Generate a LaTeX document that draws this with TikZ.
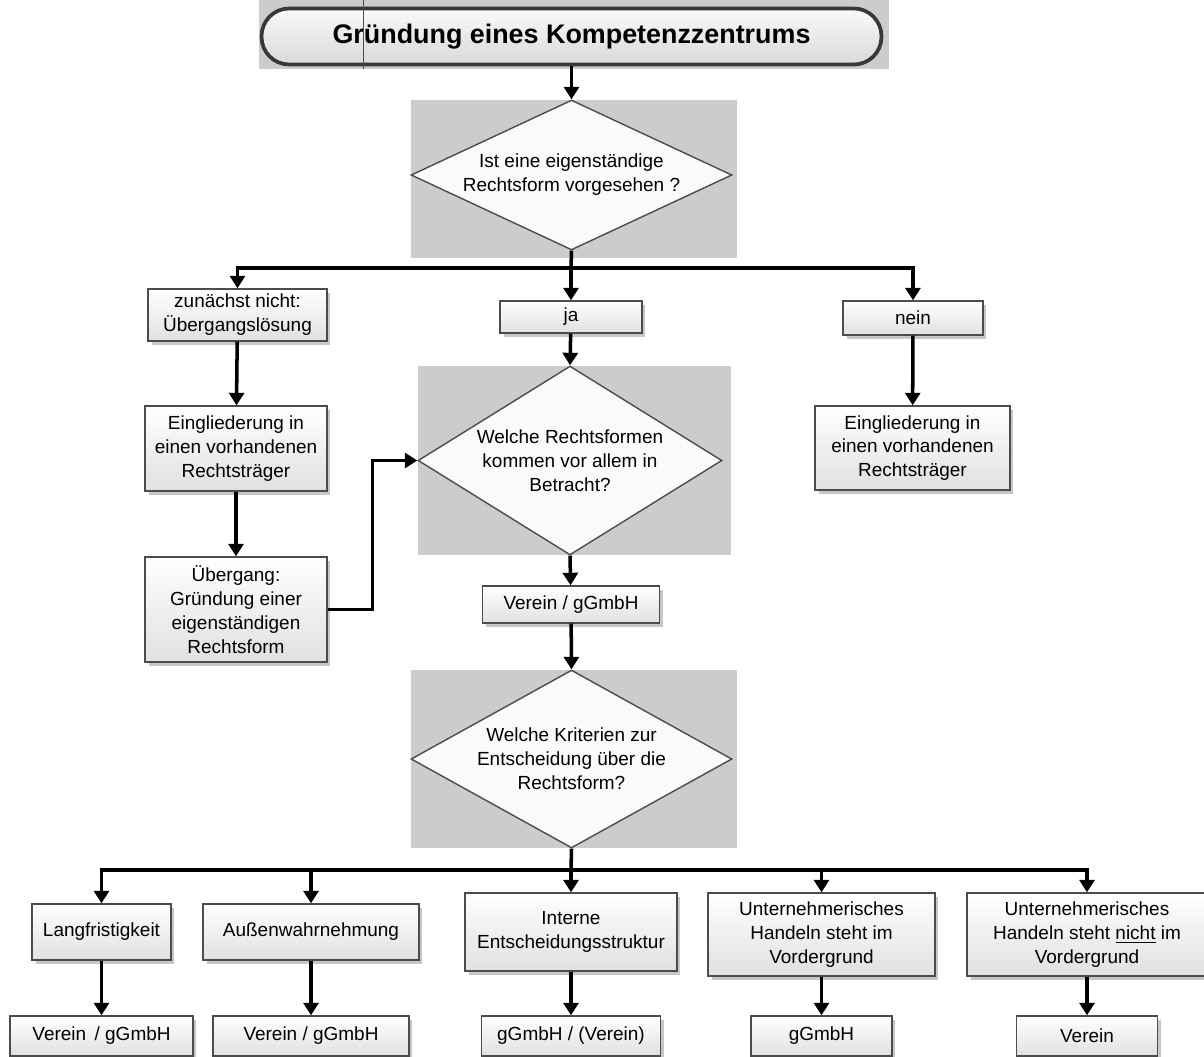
\documentclass[tikz,border=0pt]{standalone}
\usepackage{fontspec}
\setmainfont{Liberation Sans}
\usetikzlibrary{shapes.geometric,shadows,arrows.meta}

\begin{document}
\begin{tikzpicture}[x=0.02cm,y=-0.02cm,
  box/.style={draw=black!70,line width=0.8pt,top color=white,bottom color=black!12,
    drop shadow={shadow xshift=0.07cm,shadow yshift=-0.07cm,fill=black!22,opacity=1},
    align=center,inner sep=0pt,font=\fontsize{10.8}{13.6}\selectfont},
  frage/.style={diamond,draw=black!70,line width=0.8pt,fill=black!2,inner sep=0pt,
    align=center,font=\fontsize{10.8}{13.6}\selectfont},
  pfeil/.style={line width=2pt,-{Triangle[length=0.25cm,width=0.3cm]}},
  linie/.style={line width=2pt},
  hinter/.style={fill=black!20}]
\useasboundingbox (0,0) rectangle (1204,1056);

\fill[hinter] (259,0) rectangle (889,69);
\fill[hinter] (411,100) rectangle (737,258);
\fill[hinter] (418,366) rectangle (731,555);
\fill[hinter] (411,670) rectangle (737,848);

\node (titel) at (571.5,36.5) [draw=black!78,line width=2.1pt,rounded corners=0.55cm,
  top color=black!2,bottom color=black!15,minimum width=12.4cm,minimum height=1.12cm,
  font=\fontsize{15.3}{17}\selectfont\bfseries] {Gründung eines Kompetenzzentrums\hspace{8pt}};
\draw[black!70,line width=0.3pt] (363,0) -- (363,69);

\node (q1) at (571.5,175) [frage,aspect=2.14,minimum width=6.42cm,minimum height=3cm]
  {Ist eine eigenständige\\Rechtsform vorgesehen ?};
\node (zn) at (237.5,315) [box,minimum width=3.58cm,minimum height=1.04cm]
  {zunächst nicht:\\Übergangslösung};
\node (ja) at (571,317) [box,minimum width=2.84cm,minimum height=0.64cm] {ja};
\node (nein) at (913,318) [box,minimum width=2.8cm,minimum height=0.68cm] {nein};
\node (ein1) at (236,448.5) [box,minimum width=3.64cm,minimum height=1.7cm]
  {Eingliederung in\\einen vorhandenen\\Rechtsträger};
\node (ueb) at (236,609.5) [box,minimum width=3.64cm,minimum height=2.1cm]
  {Übergang:\\Gründung einer\\eigenständigen\\Rechtsform};
\node (ein2) at (912.5,448) [box,minimum width=3.9cm,minimum height=1.68cm]
  {Eingliederung in\\einen vorhandenen\\Rechtsträger};
\node (q2) at (570,460.5) [frage,aspect=1.6,minimum width=6.08cm,minimum height=3.78cm]
  {Welche Rechtsformen\\kommen vor allem in\\Betracht?};
\node (vg) at (571,604.5) [box,minimum width=3.54cm,minimum height=0.74cm] {Verein / gGmbH};
\node (q3) at (571.5,759) [frage,aspect=1.8,minimum width=6.42cm,minimum height=3.56cm]
  {Welche Kriterien zur\\Entscheidung über die\\Rechtsform?};

\node (lang) at (101.5,932) [box,minimum width=2.78cm,minimum height=1.12cm] {Langfristigkeit};
\node (auss) at (311,932) [box,minimum width=4.32cm,minimum height=1.12cm] {Außenwahrnehmung};
\node (intern) at (571,932) [box,minimum width=4.24cm,minimum height=1.56cm]
  {Interne\\Entscheidungsstruktur};
\node (unt1) at (821.5,934.5) [box,minimum width=4.54cm,minimum height=1.66cm]
  {Unternehmerisches\\Handeln steht im\\Vordergrund};
\node (unt2) at (1087,934.5) [box,minimum width=4.8cm,minimum height=1.66cm]
  {Unternehmerisches\\Handeln steht \underline{nicht} im\\Vordergrund};

\node (e1) at (101.5,1036) [box,minimum width=3.66cm,minimum height=0.8cm] {Verein\, / gGmbH};
\node (e2) at (311,1036) [box,minimum width=3.92cm,minimum height=0.8cm] {Verein / gGmbH};
\node (e3) at (571,1036) [box,minimum width=3.58cm,minimum height=0.8cm] {gGmbH / (Verein)};
\node (e4) at (821.5,1036) [box,minimum width=2.82cm,minimum height=0.8cm] {gGmbH};
\node (e5) at (1087,1036) [box,minimum width=2.82cm,minimum height=0.8cm] {Verein};

\coordinate (s1) at (571,268);
\coordinate (s2) at (571,870);

\draw[pfeil] (titel) -- (q1);
\draw[linie] (q1.south) -- (s1);
\draw[pfeil] (s1) -| (zn.north);
\draw[pfeil] (s1) -- (ja.north);
\draw[pfeil] (s1) -| (nein.north);
\draw[pfeil] (zn) -- (ein1);
\draw[pfeil] (ein1) -- (ueb);
\draw[pfeil] (ueb.east) -- ++(45,0) |- (q2.west);
\draw[pfeil] (ja) -- (q2.north);
\draw[pfeil] (nein) -- (ein2);
\draw[pfeil] (q2.south) -- (vg);
\draw[pfeil] (vg) -- (q3.north);
\draw[linie] (q3.south) -- (s2);
\foreach \k/\e in {lang/e1,auss/e2,intern/e3,unt1/e4,unt2/e5} {
  \draw[pfeil] (s2) -| (\k.north);
  \draw[pfeil] (\k) -- (\e);
}
\end{tikzpicture}
\end{document}
